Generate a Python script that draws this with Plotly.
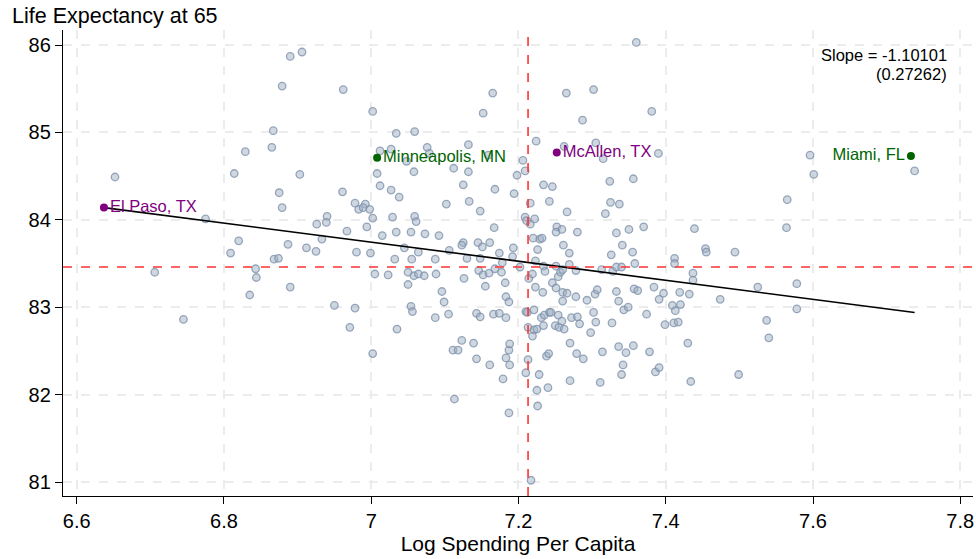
import plotly.graph_objects as go

# ---- data ----
log_spend = [
    6.652, 6.775, 6.809, 6.814, 6.820, 6.829, 6.865, 6.867, 6.868, 6.874,
    6.875, 6.879, 6.879, 6.887, 6.890, 6.706, 6.745, 6.835, 6.843, 6.844,
    6.890, 6.906, 6.962, 7.002, 7.165, 7.152, 7.034, 7.059, 7.012, 7.027,
    7.048, 7.076, 7.079, 7.132, 7.159, 7.112, 7.132, 7.058, 7.008, 6.903,
    7.012, 7.027, 7.038, 7.125, 7.168, 6.961, 6.978, 6.983, 6.992, 6.989,
    6.998, 7.102, 7.133, 7.148, 6.940, 6.926, 6.939, 7.002, 7.029, 7.059,
    7.061, 6.994, 6.967, 6.933, 7.015, 7.034, 7.054, 7.073, 7.092, 7.167,
    6.912, 6.925, 6.980, 6.999, 7.045, 7.064, 7.106, 7.125, 7.123, 7.145,
    7.151, 7.161, 7.174, 7.032, 7.055, 7.087, 7.130, 7.148, 7.178, 7.005,
    7.023, 7.050, 7.058, 7.064, 7.072, 7.050, 7.088, 7.126, 7.146, 7.152,
    7.160, 7.168, 7.177, 7.155, 7.182, 7.096, 7.099, 6.950, 6.978, 7.054,
    7.056, 7.105, 7.087, 7.143, 7.148, 7.166, 7.174, 7.183, 7.187, 7.183,
    6.971, 7.035, 7.123, 7.139, 7.111, 7.118, 7.143, 7.161, 7.002, 7.183,
    7.187, 7.188, 7.188, 7.179, 7.113, 7.187,
    7.360, 7.265, 7.302, 7.381, 7.287, 7.224, 7.305, 7.262, 7.315, 7.390,
    7.206, 7.209, 7.198, 7.356, 7.324, 7.234, 7.246, 7.194, 7.216, 7.242,
    7.325, 7.337, 7.266, 7.318, 7.209, 7.211, 7.216, 7.222, 7.252, 7.251,
    7.259, 7.280, 7.333, 7.350, 7.370, 7.439, 7.220, 7.229, 7.232, 7.261,
    7.226, 7.269, 7.341, 7.355, 7.326, 7.454, 7.455, 7.412, 7.193, 7.192,
    7.202, 7.214, 7.219, 7.223, 7.223, 7.233, 7.234, 7.236, 7.246, 7.251,
    7.251, 7.254, 7.257, 7.260, 7.269, 7.278, 7.260, 7.266, 7.260, 7.278,
    7.293, 7.304, 7.307, 7.313, 7.328, 7.333, 7.340, 7.358, 7.333, 7.336,
    7.343, 7.349, 7.357, 7.362, 7.384, 7.397, 7.391, 7.374, 7.412, 7.419,
    7.432, 7.437, 7.437, 7.409, 7.420, 7.413, 7.399, 7.411, 7.417, 7.474,
    7.210, 7.212, 7.221, 7.231, 7.235, 7.242, 7.244, 7.254, 7.259, 7.250,
    7.255, 7.262, 7.234, 7.272, 7.280, 7.283, 7.213, 7.221, 7.225, 7.219,
    7.302, 7.305, 7.327, 7.298, 7.270, 7.279, 7.288, 7.314, 7.336, 7.346,
    7.356, 7.378, 7.430, 7.342, 7.340, 7.386, 7.391, 7.238, 7.241, 7.213,
    7.210, 7.228, 7.270, 7.311, 7.240, 7.225, 7.226, 7.434, 7.217,
    7.596, 7.601, 7.738, 7.565, 7.564, 7.494, 7.525, 7.578, 7.578, 7.537,
    7.540, 7.499,
]
life_exp_65 = [
    84.49, 84.01, 83.62, 84.53, 83.76, 84.78, 84.83, 85.02, 83.55, 83.56,
    84.31, 85.53, 84.14, 83.72, 85.87, 83.40, 82.86, 83.14, 83.44, 83.34,
    83.23, 85.92, 85.49, 85.24, 85.45, 85.22, 84.99, 85.01, 84.79, 84.81,
    84.67, 84.83, 84.76, 84.86, 84.74, 84.59, 84.55, 84.55, 84.53, 84.52,
    84.39, 84.34, 84.26, 84.40, 84.35, 84.32, 84.19, 84.12, 84.18, 84.14,
    84.12, 84.18, 84.21, 84.10, 84.04, 83.95, 83.97, 84.02, 84.03, 84.04,
    83.98, 83.92, 83.87, 83.78, 83.82, 83.86, 83.86, 83.84, 83.82, 83.91,
    83.68, 83.64, 83.63, 83.62, 83.68, 83.63, 83.65, 83.74, 83.71, 83.74,
    83.69, 83.74, 83.62, 83.55, 83.55, 83.55, 83.56, 83.56, 83.51, 83.38,
    83.37, 83.40, 83.36, 83.38, 83.36, 83.26, 83.38, 83.33, 83.42, 83.37,
    83.39, 83.44, 83.40, 83.24, 83.28, 83.18, 83.06, 83.02, 82.99, 83.01,
    82.95, 82.92, 82.88, 82.93, 82.89, 82.92, 82.93, 83.12, 83.06, 82.88,
    82.77, 82.75, 82.62, 82.59, 82.51, 82.51, 82.41, 82.34, 82.47, 82.42,
    82.51, 82.58, 82.34, 82.18, 81.95, 81.79,
    86.03, 85.45, 85.49, 85.24, 85.14, 84.90, 84.88, 84.84, 84.70, 84.76,
    84.68, 84.56, 84.51, 84.47, 84.44, 84.40, 84.38, 84.30, 84.19, 84.21,
    84.20, 84.18, 84.09, 84.07, 84.03, 83.99, 83.95, 84.01, 83.92, 83.86,
    83.89, 83.86, 83.85, 83.89, 83.92, 83.90, 83.79, 83.78, 83.79, 83.71,
    83.66, 83.62, 83.71, 83.63, 83.60, 83.67, 83.63, 83.56, 83.68, 83.58,
    83.46, 83.33, 83.38, 83.23, 83.53, 83.17, 83.47, 83.41, 83.28, 83.22,
    83.47, 83.35, 83.40, 83.43, 83.49, 83.42, 83.17, 83.16, 83.07, 83.12,
    83.08, 83.15, 83.20, 83.43, 83.41, 83.46, 83.46, 83.50, 83.18, 83.07,
    82.97, 83.00, 83.21, 83.19, 83.23, 83.16, 83.09, 82.92, 83.50, 83.17,
    83.15, 83.39, 83.31, 83.02, 83.03, 82.96, 82.80, 82.82, 82.83, 83.09,
    82.95, 82.94, 82.97, 82.88, 82.91, 82.94, 82.94, 82.91, 82.84, 82.79,
    82.77, 82.75, 82.79, 82.88, 82.89, 82.81, 82.77, 82.74, 82.75, 82.67,
    82.94, 82.83, 82.82, 82.71, 82.59, 82.47, 82.41, 82.49, 82.55, 82.48,
    82.56, 82.49, 82.59, 82.34, 82.23, 82.26, 82.31, 82.44, 82.47, 82.40,
    82.25, 82.23, 82.16, 82.14, 82.08, 82.05, 81.87, 82.15, 81.02,
    84.74, 84.52, 84.56, 84.23, 83.91, 83.63, 83.23, 83.27, 82.98, 82.85,
    82.65, 82.23,
]

purple_cities = ["El Paso, TX", "McAllen, TX"]
purple_x = [6.637, 7.252]
purple_y = [84.14, 84.77]

green_cities = ["Minneapolis, MN", "Miami, FL"]
green_x = [7.008, 7.733]
green_y = [84.71, 84.73]

mean_x = 7.213
mean_y = 83.46

fit_x = [6.637, 7.738]
fit_y = [84.14, 82.94]

slope_text = "Slope = -1.10101"
se_text = "(0.27262)"

x_ticks = [6.6, 6.8, 7.0, 7.2, 7.4, 7.6, 7.8]
x_ticklabels = ["6.6", "6.8", "7", "7.2", "7.4", "7.6", "7.8"]
y_ticks = [81, 82, 83, 84, 85, 86]

FONT = "Liberation Sans, Arial, sans-serif"
PURPLE = "#800080"
GREEN = "#006400"

fig = go.Figure()

fig.add_trace(go.Scatter(
    x=log_spend, y=life_exp_65, mode="markers",
    marker=dict(size=7.5, color="rgba(160,176,196,0.5)",
                line=dict(color="rgba(122,142,168,0.75)", width=1.3)),
    showlegend=False, hoverinfo="x+y",
))

fig.add_trace(go.Scatter(
    x=fit_x, y=fit_y, mode="lines",
    line=dict(color="black", width=1.6), showlegend=False,
))

fig.add_trace(go.Scatter(
    x=purple_x, y=purple_y, mode="markers+text", text=purple_cities,
    textposition=["middle right", "middle right"],
    textfont=dict(family=FONT, size=16.5, color=PURPLE),
    marker=dict(size=8, color=PURPLE), showlegend=False,
))
fig.add_trace(go.Scatter(
    x=green_x, y=green_y, mode="markers+text", text=green_cities,
    textposition=["middle right", "middle left"],
    textfont=dict(family=FONT, size=16.5, color=GREEN),
    marker=dict(size=8, color=GREEN), showlegend=False,
))

fig.add_shape(type="line", xref="x", yref="paper", x0=mean_x, x1=mean_x, y0=0, y1=1,
              line=dict(color="#ff3333", width=1.6, dash="dash"), layer="above")
fig.add_shape(type="line", xref="paper", yref="y", x0=0, x1=1, y0=mean_y, y1=mean_y,
              line=dict(color="#ff3333", width=1.6, dash="dash"), layer="above")

fig.add_annotation(xref="paper", yref="paper", x=0.9736, y=0.9463, text=slope_text,
                   showarrow=False, xanchor="right", yanchor="middle",
                   font=dict(family=FONT, size=16.5, color="black"))
fig.add_annotation(xref="paper", yref="paper", x=0.9736, y=0.9049, text=se_text,
                   showarrow=False, xanchor="right", yanchor="middle",
                   font=dict(family=FONT, size=16.5, color="black"))

fig.update_layout(
    width=976, height=559,
    margin=dict(l=63, r=3, t=30, b=63),
    paper_bgcolor="white", plot_bgcolor="white",
    font=dict(family=FONT, size=20, color="black"),
    title=dict(text="Life Expectancy at 65", xref="container", yref="container",
               x=12 / 976, xanchor="left", y=1 - 15 / 559, yanchor="middle",
               font=dict(family=FONT, size=21.5, color="black")),
    showlegend=False,
)
fig.update_xaxes(
    range=[6.5814, 7.8173], tickvals=x_ticks, ticktext=x_ticklabels,
    showline=True, linecolor="black", linewidth=1.3,
    ticks="outside", ticklen=7, tickcolor="black", tickwidth=1.3,
    showgrid=True, gridcolor="#ececec", gridwidth=1.5, griddash="dash",
    zeroline=False, tickfont=dict(family=FONT, size=20),
    title=dict(text="Log Spending Per Capita", standoff=3,
               font=dict(family=FONT, size=21)),
)
fig.update_yaxes(
    range=[80.840, 86.172], tickvals=y_ticks,
    showline=True, linecolor="black", linewidth=1.3,
    ticks="outside", ticklen=7, tickcolor="black", tickwidth=1.3,
    showgrid=True, gridcolor="#ececec", gridwidth=1.5, griddash="dash",
    zeroline=False, tickfont=dict(family=FONT, size=20),
)

fig.write_html("out.html", config={"displayModeBar": False},
               post_script="document.body.style.margin='0px';")
